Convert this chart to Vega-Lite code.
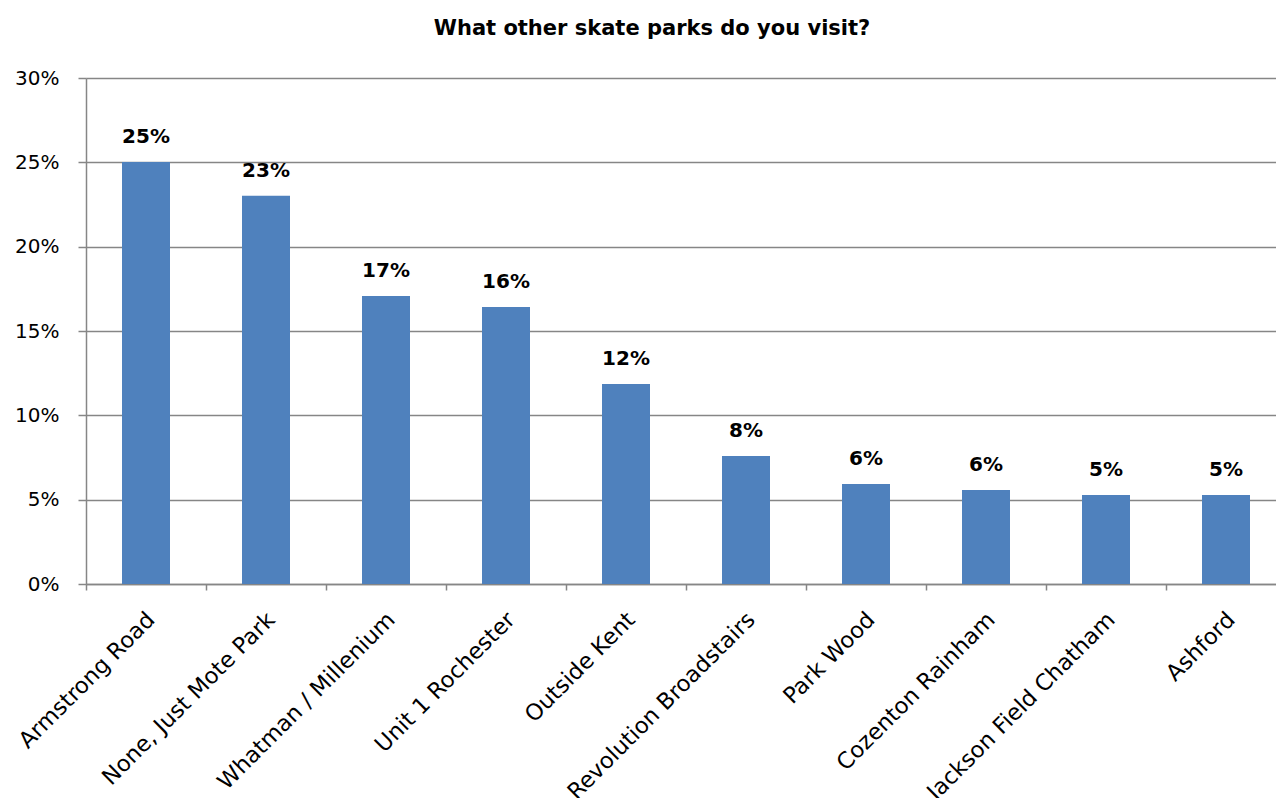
{
  "$schema": "https://vega.github.io/schema/vega-lite/v6.json",
  "width": 1190,
  "height": 506,
  "autosize": {"type": "none"},
  "padding": {"left": 86, "top": 78, "right": 0, "bottom": 214},
  "background": "white",
  "config": {"view": {"stroke": null}, "font": "DejaVu Sans"},
  "title": {
    "text": "What other skate parks do you visit?",
    "font": "DejaVu Sans",
    "fontSize": 21,
    "fontWeight": "bold",
    "color": "black",
    "anchor": "middle",
    "frame": "group",
    "dx": -29,
    "baseline": "alphabetic",
    "offset": 12
  },
  "data": {
    "values": [
      {"park": "Armstrong Road", "share": 0.2502},
      {"park": "None, Just Mote Park", "share": 0.2302},
      {"park": "Whatman / Millenium", "share": 0.1707},
      {"park": "Unit 1 Rochester", "share": 0.1642},
      {"park": "Outside Kent", "share": 0.1186},
      {"park": "Revolution Broadstairs", "share": 0.0759},
      {"park": "Park Wood", "share": 0.0593},
      {"park": "Cozenton Rainham", "share": 0.0557},
      {"park": "Jackson Field Chatham", "share": 0.0528},
      {"park": "Ashford", "share": 0.0528}
    ]
  },
  "encoding": {
    "x": {
      "field": "park",
      "type": "nominal",
      "sort": null,
      "scale": {"range": [0, 1200], "paddingInner": 0.6, "paddingOuter": 0.3},
      "axis": {
        "title": null,
        "labelAngle": -45,
        "labelFont": "DejaVu Sans",
        "labelFontSize": 22.5,
        "labelColor": "black",
        "labelLimit": 0,
        "labelPadding": 18,
        "domainColor": "#868686",
        "domainWidth": 1.5,
        "tickColor": "#868686",
        "tickWidth": 1.5,
        "tickSize": 6,
        "tickOffset": -60,
        "labelOffset": 57,
        "grid": false
      }
    },
    "y": {
      "field": "share",
      "type": "quantitative",
      "scale": {"domain": [0, 0.3]},
      "axis": {
        "title": null,
        "values": [0, 0.05, 0.1, 0.15, 0.2, 0.25, 0.3],
        "format": ".0%",
        "labelFont": "DejaVu Sans",
        "labelFontSize": 20,
        "labelColor": "black",
        "labelPadding": 19,
        "tickSize": 8,
        "tickColor": "#868686",
        "tickWidth": 1.5,
        "domainColor": "#868686",
        "domainWidth": 1.5,
        "grid": true,
        "gridColor": "#868686",
        "gridWidth": 1.5
      }
    }
  },
  "layer": [
    {"mark": {"type": "bar", "color": "#4F81BD"}},
    {
      "mark": {
        "type": "text",
        "dy": -19,
        "baseline": "alphabetic",
        "font": "DejaVu Sans",
        "fontWeight": "bold",
        "fontSize": 20,
        "color": "black"
      },
      "encoding": {"text": {"field": "share", "format": ".0%"}}
    }
  ]
}
